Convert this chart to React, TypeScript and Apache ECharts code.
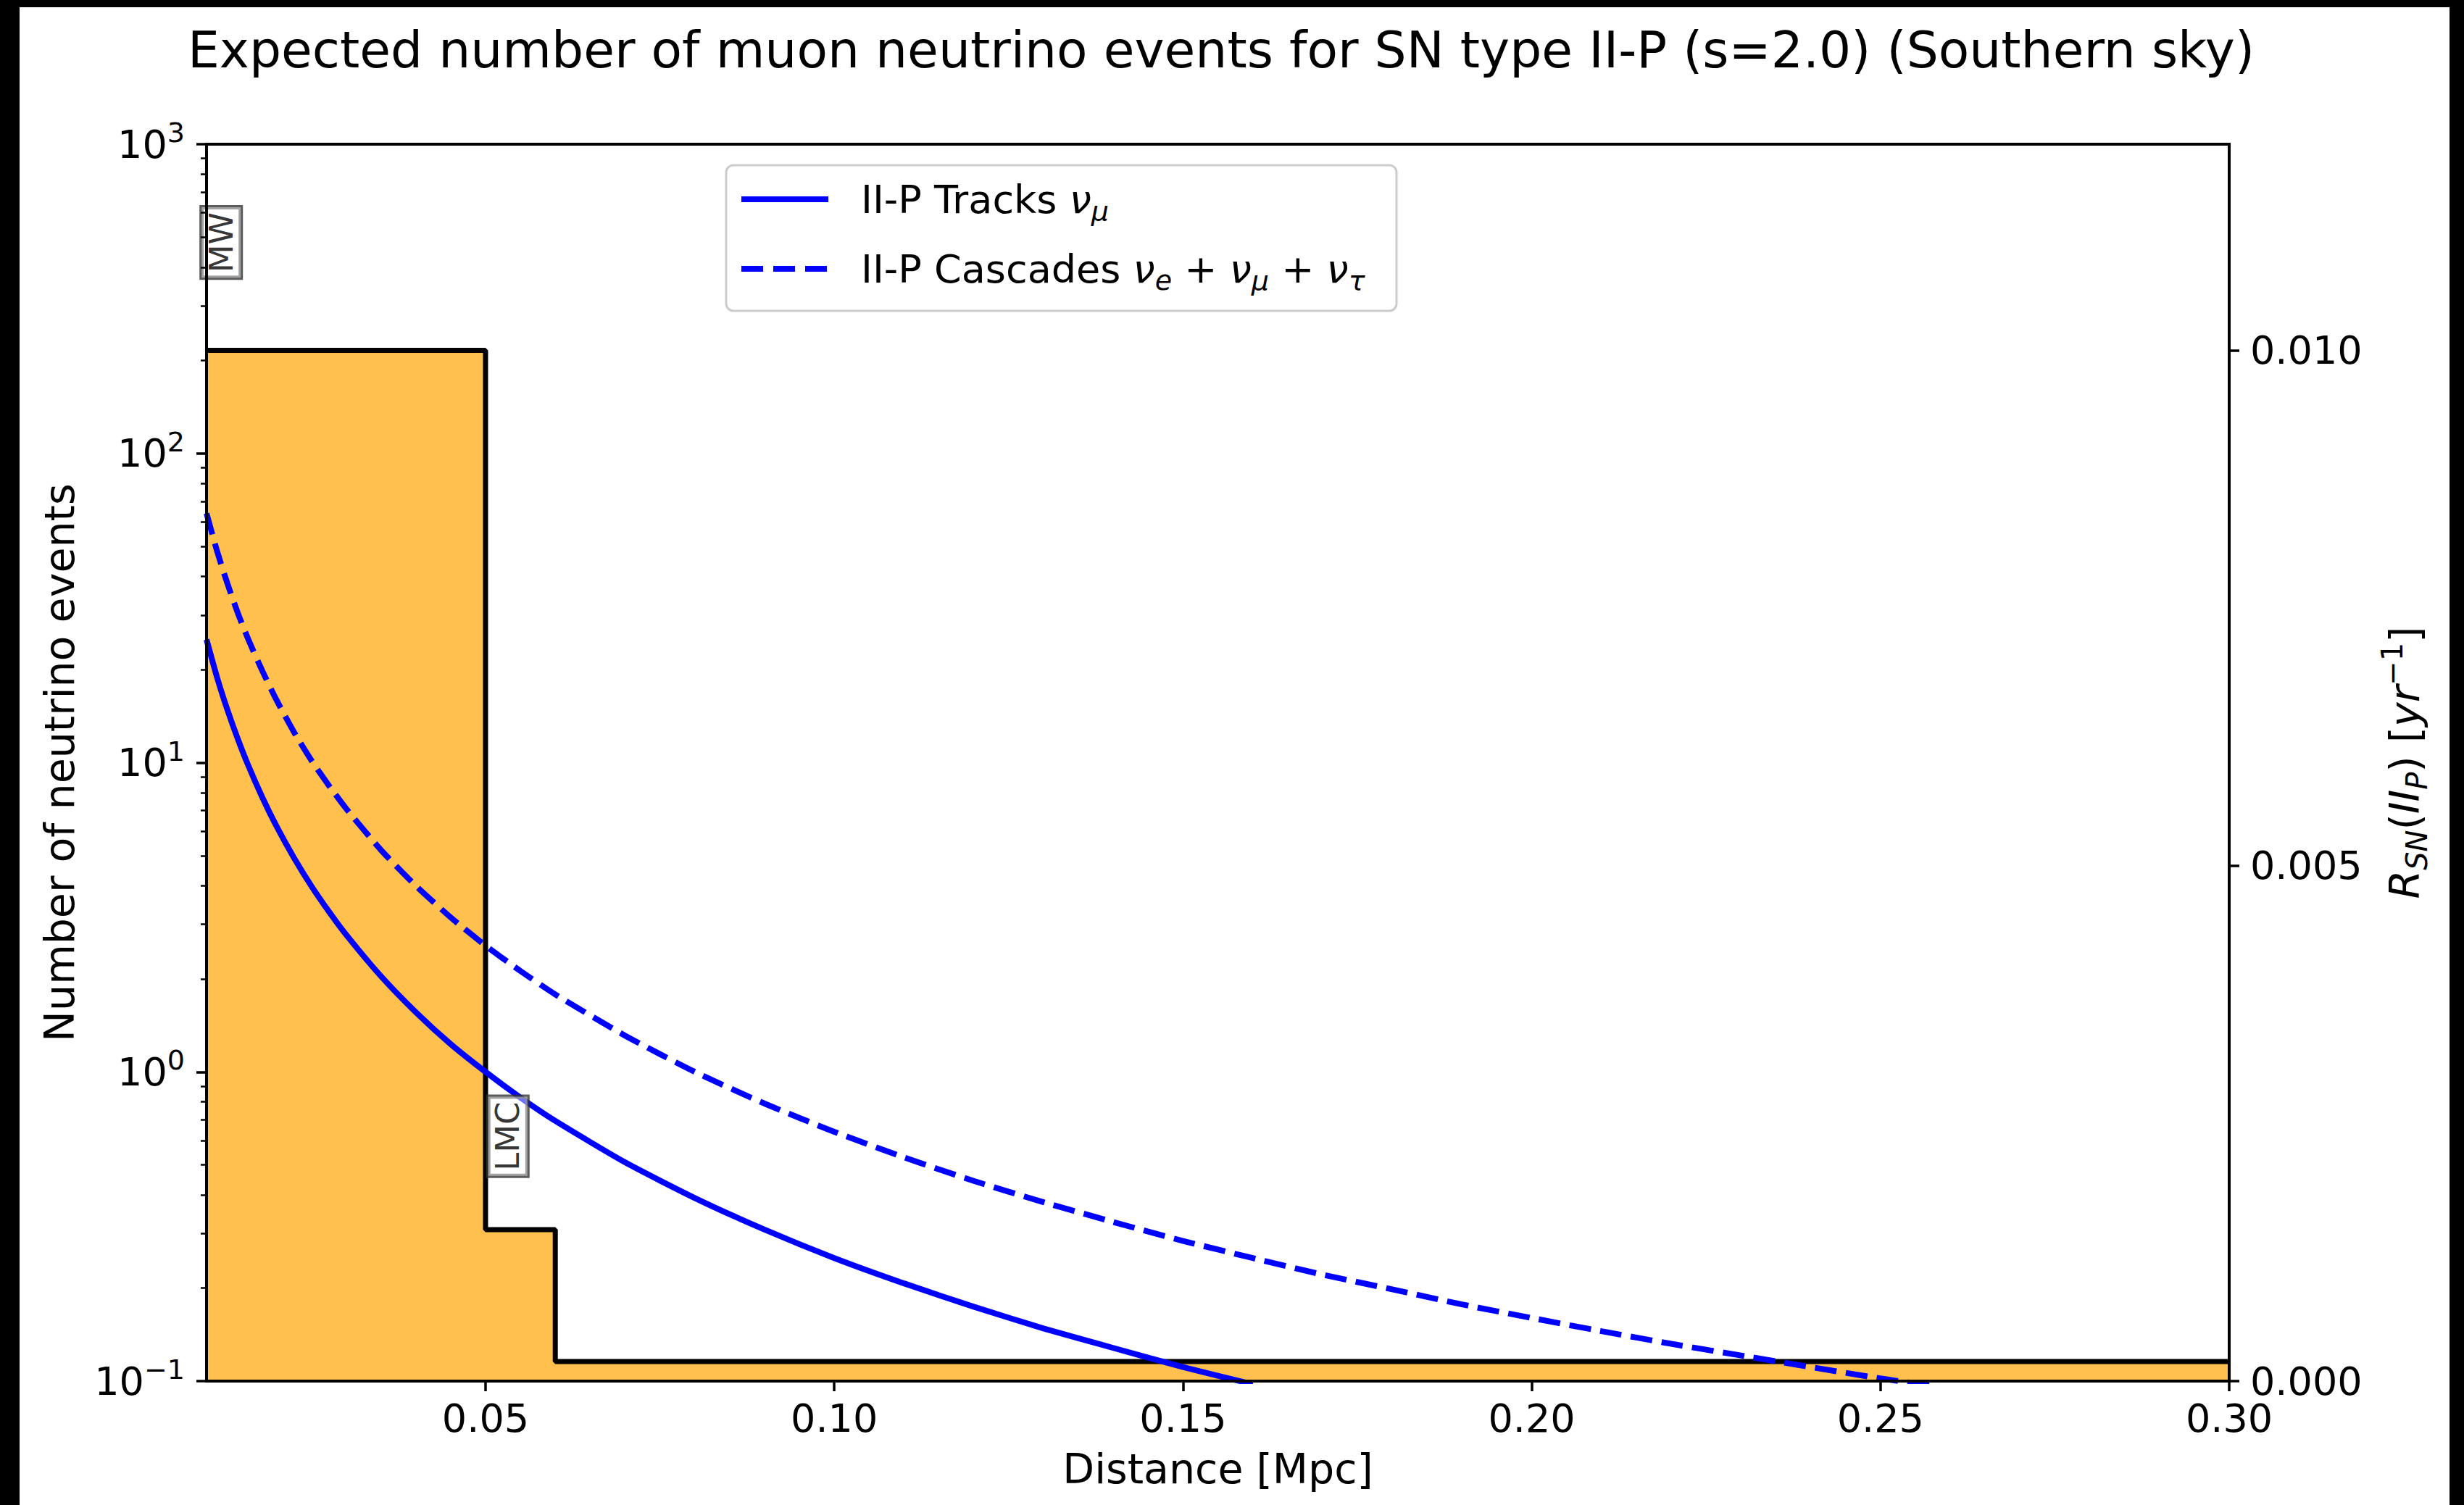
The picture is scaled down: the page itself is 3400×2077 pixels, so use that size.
import React, { useEffect, useRef } from 'react';
import * as echarts from 'echarts';

// ---- data ----
const trackDistance = [0.01, 0.0115, 0.013, 0.0145, 0.016, 0.018, 0.02, 0.0225, 0.025, 0.0275, 0.03, 0.035, 0.04, 0.045, 0.05, 0.055, 0.06, 0.07, 0.08, 0.09, 0.1, 0.11, 0.12, 0.13, 0.14, 0.15, 0.16];
const trackEvents = [25.0, 18.9, 14.8, 11.9, 9.77, 7.72, 6.25, 4.94, 4.0, 3.31, 2.78, 2.04, 1.56, 1.23, 1.0, 0.826, 0.694, 0.51, 0.391, 0.309, 0.25, 0.207, 0.174, 0.148, 0.128, 0.111, 0.0977];

const cascadeDistance = [0.01, 0.0115, 0.013, 0.0145, 0.016, 0.018, 0.02, 0.0225, 0.025, 0.0275, 0.03, 0.035, 0.04, 0.045, 0.05, 0.055, 0.06, 0.07, 0.08, 0.09, 0.1, 0.11, 0.12, 0.13, 0.14, 0.15, 0.16, 0.17, 0.18, 0.19, 0.2, 0.21, 0.22, 0.23, 0.24, 0.25, 0.26];
const cascadeEvents = [64.0, 48.4, 37.9, 30.4, 25.0, 19.8, 16.0, 12.6, 10.2, 8.46, 7.11, 5.22, 4.0, 3.16, 2.56, 2.12, 1.78, 1.31, 1.0, 0.79, 0.64, 0.529, 0.444, 0.379, 0.327, 0.284, 0.25, 0.221, 0.198, 0.177, 0.16, 0.145, 0.132, 0.121, 0.111, 0.102, 0.0947];

// supernova rate histogram (right axis): bin starts and rates
const rateBinStart = [0.01, 0.05, 0.06, 0.3];
const rateValues = [0.01, 0.00147, 0.00019, 0.00019];

const xTicks = [0.05, 0.1, 0.15, 0.2, 0.25, 0.3];
const rightTicks = [0, 0.005, 0.01];
const minorLogTicks = [0.2, 0.3, 0.4, 0.5, 0.6, 0.7, 0.8, 0.9, 2, 3, 4, 5, 6, 7, 8, 9, 20, 30, 40, 50, 60, 70, 80, 90, 200, 300, 400, 500, 600, 700, 800, 900];

const annotationNames = ['MW', 'LMC'];
const annotationX = [0.0121, 0.0532];
const annotationY = [481, 0.619];

const FONT = 'DejaVu Sans';

export default function App() {
  const ref = useRef<HTMLDivElement>(null);
  useEffect(() => {
    document.body.style.margin = '0';
    const chart = echarts.init(ref.current!, null, { renderer: 'svg' });

    const supRich = {
      a: { fontFamily: FONT, fontSize: 54, lineHeight: 70, color: '#000', verticalAlign: 'middle' },
      b: { fontFamily: FONT, fontSize: 38, lineHeight: 38, color: '#000', verticalAlign: 'top' },
    };

    const mathMain = (size: number, lh: number, italic: boolean) => ({
      fontFamily: FONT, fontSize: size, lineHeight: lh, color: '#000', fontStyle: italic ? 'italic' : 'normal', verticalAlign: 'middle',
    });
    const mathSub = (size: number, italic: boolean) => ({
      fontFamily: FONT, fontSize: size, lineHeight: size, color: '#000', fontStyle: italic ? 'italic' : 'normal', verticalAlign: 'bottom',
    });
    const mathSup = (size: number, italic: boolean) => ({
      fontFamily: FONT, fontSize: size, lineHeight: size, color: '#000', fontStyle: italic ? 'italic' : 'normal', verticalAlign: 'top',
    });

    const legendRich = {
      t: mathMain(54, 70, false),
      i: mathMain(54, 70, true),
      s: mathSub(38, true),
    };

    const option: any = {
      animation: false,
      backgroundColor: '#ffffff',
      title: {
        text: 'Expected number of muon neutrino events for SN type II-P (s=2.0) (Southern sky)',
        left: 1680,
        top: 28,
        textAlign: 'center',
        textStyle: { fontFamily: FONT, fontSize: 69.5, lineHeight: 70, fontWeight: 'normal', color: '#000' },
      },
      grid: {
        left: 285, top: 199, width: 2791, height: 1707,
        show: true, borderColor: '#000', borderWidth: 4, backgroundColor: 'transparent',
      },
      xAxis: {
        type: 'value', min: 0.01, max: 0.3, z: 10,
        name: 'Distance [Mpc]', nameLocation: 'middle', nameGap: 92,
        nameTextStyle: { fontFamily: FONT, fontSize: 57, color: '#000', lineHeight: 57 },
        axisLine: { show: true, lineStyle: { color: '#000', width: 4 } },
        axisTick: { show: true, inside: false, length: 14, lineStyle: { color: '#000', width: 3.5 }, customValues: xTicks },
        axisLabel: { show: true, margin: 24, fontFamily: FONT, fontSize: 54, color: '#000', customValues: xTicks, formatter: (v: number) => v.toFixed(2) },
        splitLine: { show: false },
      },
      yAxis: [
        {
          type: 'log', logBase: 10, min: 0.1, max: 1000, position: 'left', z: 10,
          name: 'Number of neutrino events', nameLocation: 'middle', nameGap: 175, nameRotate: 90,
          nameTextStyle: { fontFamily: FONT, fontSize: 57, color: '#000', lineHeight: 57 },
          axisLine: { show: true, lineStyle: { color: '#000', width: 4 } },
          axisTick: { show: true, inside: false, length: 14, lineStyle: { color: '#000', width: 3.5 } },
          axisLabel: {
            show: true, margin: 30,
            formatter: (v: number) => {
              const e = Math.round(Math.log10(v));
              const s = e < 0 ? '\u2212' + Math.abs(e) : String(e);
              return '{a|10}{b|' + s + '}';
            },
            rich: supRich,
          },
          splitLine: { show: false },
          minorTick: { show: false },
        },
        {
          type: 'value', min: 0, max: 0.012, position: 'right', z: 10,
          name: '{i|R}{si|SN}{t|(}{i|II}{si|P}{t|) [}{i|yr}{sp|\u22121}{t|]}',
          nameLocation: 'middle', nameGap: 205, nameRotate: 90,
          nameTextStyle: {
            fontFamily: FONT, fontSize: 57, color: '#000',
            rich: {
              i: mathMain(57, 74, true),
              t: mathMain(57, 74, false),
              si: mathSub(40, true),
              sp: mathSup(40, false),
            },
          },
          axisLine: { show: true, lineStyle: { color: '#000', width: 4 } },
          axisTick: { show: true, inside: false, length: 14, lineStyle: { color: '#000', width: 3.5 }, customValues: rightTicks },
          axisLabel: { show: true, margin: 29, fontFamily: FONT, fontSize: 54, color: '#000', customValues: rightTicks, formatter: (v: number) => v.toFixed(3) },
          splitLine: { show: false },
        },
        {
          type: 'log', logBase: 10, min: 0.1, max: 1000, position: 'left', z: 10,
          axisLine: { show: false },
          axisTick: { show: true, inside: false, length: 8, lineStyle: { color: '#000', width: 2.5 }, customValues: minorLogTicks },
          axisLabel: { show: false },
          splitLine: { show: false },
        },
      ],
      series: [
        {
          name: 'rate',
          type: 'line',
          yAxisIndex: 1,
          step: 'end',
          symbol: 'none',
          data: rateBinStart.map((x, i) => [x, rateValues[i]]),
          lineStyle: { color: '#000', width: 7 },
          areaStyle: { color: '#FFC04D', opacity: 1 },
          z: 1,
        },
        {
          name: 'II-P Tracks',
          type: 'line',
          yAxisIndex: 0,
          symbol: 'none',
          smooth: 0.2,
          data: trackDistance.map((x, i) => [x, trackEvents[i]]),
          lineStyle: { color: '#0000ff', width: 8 },
          z: 3,
        },
        {
          name: 'II-P Cascades',
          type: 'line',
          yAxisIndex: 0,
          symbol: 'none',
          smooth: 0.2,
          data: cascadeDistance.map((x, i) => [x, cascadeEvents[i]]),
          lineStyle: { color: '#0000ff', width: 8, type: [30, 13], cap: 'butt' },
          z: 3,
        },
        {
          name: 'annotations',
          type: 'scatter',
          yAxisIndex: 0,
          symbol: 'circle',
          symbolSize: 1,
          itemStyle: { color: 'rgba(0,0,0,0)' },
          z: 6,
          data: annotationNames.map((n, i) => ({ name: n, value: [annotationX[i], annotationY[i]] })),
          label: {
            show: true,
            position: 'inside',
            rotate: 90,
            formatter: '{b}',
            fontFamily: FONT,
            fontSize: 45,
            lineHeight: 45,
            color: '#000',
            backgroundColor: 'rgba(255,255,255,0.55)',
            borderColor: '#333',
            borderWidth: 3,
            padding: [5, 7, 4, 7],
          },
        },
      ],
      graphic: [
        {
          type: 'group', z: 50,
          children: [
            { type: 'rect', shape: { x: 1002, y: 228, width: 925, height: 201, r: 10 }, style: { fill: 'rgba(255,255,255,0.85)', stroke: '#cccccc', lineWidth: 3 } },
            { type: 'line', shape: { x1: 1023, y1: 275, x2: 1143, y2: 275 }, style: { stroke: '#0000ff', lineWidth: 8 } },
            { type: 'line', shape: { x1: 1023, y1: 371, x2: 1143, y2: 371 }, style: { stroke: '#0000ff', lineWidth: 8, lineDash: [30, 14] } },
            {
              type: 'text', x: 1188, y: 275,
              style: { text: '{t|II-P Tracks }{i|\u03bd}{s|\u03bc}', rich: legendRich, verticalAlign: 'middle', align: 'left', fontFamily: FONT, fontSize: 54 },
            },
            {
              type: 'text', x: 1188, y: 371,
              style: {
                text: '{t|II-P Cascades }{i|\u03bd}{s|e}{t| + }{i|\u03bd}{s|\u03bc}{t| + }{i|\u03bd}{s|\u03c4}',
                rich: legendRich, verticalAlign: 'middle', align: 'left', fontFamily: FONT, fontSize: 54,
              },
            },
          ],
        },
        { type: 'rect', z: 100, shape: { x: 0, y: 0, width: 27, height: 2077 }, style: { fill: '#000' } },
        { type: 'rect', z: 100, shape: { x: 3380, y: 0, width: 20, height: 2077 }, style: { fill: '#000' } },
        { type: 'rect', z: 100, shape: { x: 0, y: 0, width: 3400, height: 10 }, style: { fill: '#000' } },
      ],
    };

    chart.setOption(option);
    return () => chart.dispose();
  }, []);

  return <div ref={ref} style={{ width: 3400, height: 2077 }} />;
}
